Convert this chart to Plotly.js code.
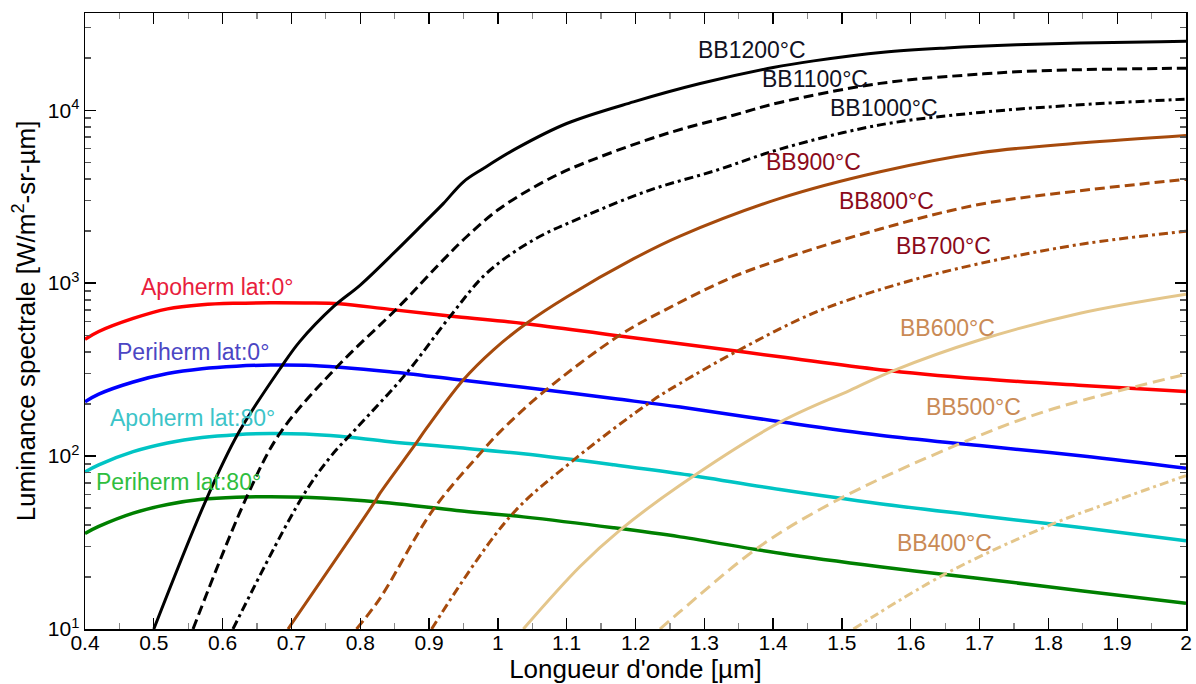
<!DOCTYPE html>
<html>
<head>
<meta charset="utf-8">
<script src="https://cdn.plot.ly/plotly-3.0.1.min.js"></script>
<style>html,body{margin:0;padding:0;background:#fff;}#chart{width:1196px;height:684px;}</style>
</head>
<body>
<div id="chart"></div>
<script>
// ---- Data (wavelength in µm, radiance in W/m²-sr-µm) ----
const bb1200_x = [0.50, 0.577, 0.6225, 0.686, 0.712, 0.761, 0.800, 0.853, 0.892, 0.921, 0.950, 0.979, 1.027, 1.10, 1.197, 1.294, 1.400, 1.459, 1.56, 1.652, 1.754, 1.846, 1.963, 2.0];
const bb1200_y = [10, 57, 135, 331, 459, 731, 975, 1553, 2216, 2891, 3855, 4603, 6012, 8375, 11170, 14256, 17660, 19280, 21630, 22910, 23880, 24430, 24890, 25000];

const bb1100_x = [0.557, 0.635, 0.683, 0.765, 0.8576, 0.9157, 0.9545, 1.003, 1.0805, 1.1484, 1.2454, 1.3423, 1.41, 1.5555, 1.706, 1.803, 1.963, 2.0];
const bb1100_y = [10, 58, 135, 324, 741, 1300, 1854, 2704, 4121, 5370, 7328, 9354, 11090, 14290, 16220, 16980, 17420, 17500];

const bb1000_x = [0.615, 0.7146, 0.7558, 0.7946, 0.867, 0.9303, 0.9836, 1.0514, 1.1241, 1.221, 1.318, 1.41, 1.5555, 1.701, 1.846, 2.0];
const bb1000_y = [10, 57, 98, 145, 301, 640, 1140, 1774, 2421, 3451, 4498, 5957, 8222, 9705, 10740, 11590];

const bb900_x = [0.695, 0.8212, 0.8285, 0.8794, 0.8964, 0.9496, 0.9932, 1.0418, 1.10, 1.1968, 1.2647, 1.41, 1.5555, 1.701, 1.846, 2.0];
const bb900_y = [10, 54.5, 60.8, 115.9, 144.9, 275.4, 410.2, 586.1, 832, 1380, 1870, 3090, 4406, 5675, 6457, 7145];

const bb800_x = [0.7946, 0.8285, 0.906, 0.9787, 1.003, 1.066, 1.1775, 1.2454, 1.3423, 1.41, 1.5555, 1.701, 1.846, 2.0];
const bb800_y = [10, 15, 49, 108.4, 138, 234, 501, 708, 1089, 1365, 2056, 2858, 3420, 3981];

const bb700_x = [0.9037, 1.0175, 1.107, 1.226, 1.2647, 1.347, 1.4585, 1.58, 1.701, 1.846, 2.0];
const bb700_y = [10, 44.6, 92.7, 211, 263, 403, 670, 982, 1300, 1675, 1995];

const bb600_x = [1.037, 1.119, 1.1775, 1.2647, 1.41, 1.5117, 1.575, 1.70, 1.846, 2.0];
const bb600_y = [10, 22.9, 37.3, 67.8, 157, 240, 312, 469, 670, 863];

const bb500_x = [1.2355, 1.2647, 1.381, 1.4975, 1.667, 1.798, 2.0];
const bb500_y = [10, 12.6, 30.1, 56.8, 115.9, 182.8, 297.2];

const bb400_x = [1.5167, 1.652, 1.8075, 1.90, 2.0];
const bb400_y = [10, 21, 40.7, 55.7, 77.1];

const surf_x   = [0.40, 0.42, 0.47, 0.52, 0.57, 0.62, 0.67, 0.72, 0.77, 0.843, 0.94, 1.037, 1.168, 1.265, 1.41, 1.555, 1.70, 1.85, 2.0];
const apo0_y   = [473, 525, 625, 710, 750, 765, 769, 767, 760, 705, 640, 585, 500, 446, 375, 316, 280, 256, 236];
const peri0_y  = [206, 228, 268, 300, 320, 331, 336, 335, 326, 307, 277, 250, 215, 192, 158, 132, 115, 100, 85];
const apo80_y  = [81, 89, 106, 119, 128, 133, 135, 134, 130, 121, 112, 103, 89, 79, 64, 53, 45.2, 38.5, 32.4];
const peri80_y = [35.7, 39.2, 46.8, 52.5, 56.2, 57.8, 58.2, 57.8, 56.5, 53.5, 48.5, 44.5, 38.5, 34.1, 27.4, 22.9, 19.6, 16.6, 14.1];

const xTickVals = [0.4, 0.5, 0.6, 0.7, 0.8, 0.9, 1, 1.1, 1.2, 1.3, 1.4, 1.5, 1.6, 1.7, 1.8, 1.9, 2];
const xTickText = ['0.4','0.5','0.6','0.7','0.8','0.9','1','1.1','1.2','1.3','1.4','1.5','1.6','1.7','1.8','1.9','2'];
const yTickVals = [10, 100, 1000, 10000];
const yTickText = ['10<sup>1</sup>','10<sup>2</sup>','10<sup>3</sup>','10<sup>4</sup>'];

const labelText = ['BB1200°C','BB1100°C','BB1000°C','BB900°C','BB800°C','BB700°C','BB600°C','BB500°C','BB400°C',
                   'Apoherm lat:0°','Periherm lat:0°','Apoherm lat:80°','Periherm lat:80°'];

// ---- styles ----
const BLACK = '#000000', BROWN = '#A64A0C', TAN = '#E4C68B';
const DASH = '10px,5px', DASHDOT = '9px,4px,3px,4px', TANDASH = '12px,6px';

function line(x, y, color, dash, w) {
  return {x: x, y: y, type: 'scatter', mode: 'lines', showlegend: false, hoverinfo: 'skip',
          line: {color: color, width: w || 3, dash: dash || 'solid', shape: 'spline', smoothing: 1}};
}

const traces = [
  line(surf_x, apo0_y, '#FF0000', 'solid', 3.5),
  line(surf_x, peri0_y, '#0000FF', 'solid', 3.5),
  line(surf_x, apo80_y, '#00C4C4', 'solid', 3.5),
  line(surf_x, peri80_y, '#008000', 'solid', 3.5),
  line(bb1200_x, bb1200_y, BLACK, 'solid'),
  line(bb1100_x, bb1100_y, BLACK, DASH),
  line(bb1000_x, bb1000_y, BLACK, DASHDOT),
  line(bb900_x, bb900_y, BROWN, 'solid'),
  line(bb800_x, bb800_y, BROWN, DASH),
  line(bb700_x, bb700_y, BROWN, DASHDOT),
  line(bb600_x, bb600_y, TAN, 'solid'),
  line(bb500_x, bb500_y, TAN, TANDASH),
  line(bb400_x, bb400_y, TAN, DASHDOT)
];

const labelPos = [
  [0.606, 0.940], [0.663, 0.893], [0.726, 0.846],
  [0.662, 0.758], [0.728, 0.694], [0.780, 0.621],
  [0.783, 0.488], [0.807, 0.360], [0.781, 0.139],
  [0.120, 0.556], [0.098, 0.449], [0.098, 0.342], [0.085, 0.238]
];
const labelColor = ['#111122','#111122','#111122','#8B0A1A','#8B0A1A','#8B0A1A',
                    '#C98A55','#C98A55','#C98A55','#E8203C','#4B46C4','#3CC4C8','#2EBE3E'];

const FONT = 'Liberation Sans, Arial, sans-serif';
const annotations = labelText.map((t, i) => ({
  text: t, xref: 'paper', yref: 'paper', x: labelPos[i][0], y: labelPos[i][1],
  xanchor: 'center', yanchor: 'middle', showarrow: false,
  font: {family: FONT, size: 23, color: labelColor[i]}
}));

const layout = {
  width: 1196, height: 684,
  margin: {l: 85, r: 10, t: 13, b: 55, pad: 0},
  paper_bgcolor: '#ffffff', plot_bgcolor: '#ffffff',
  font: {family: FONT, color: '#000'},
  xaxis: {
    range: [0.4, 2], tickmode: 'array', tickvals: xTickVals, ticktext: xTickText,
    ticks: 'inside', ticklen: 11, tickwidth: 1.3, tickcolor: '#000',
    showline: true, linecolor: '#000', linewidth: 1.5, mirror: 'ticks',
    showgrid: false, zeroline: false, ticklabelstandoff: -6,
    tickfont: {family: FONT, size: 21, color: '#000'},
    minor: {dtick: 0.05, tick0: 0.4, ticks: 'inside', ticklen: 6, tickcolor: '#888', tickwidth: 1.3, showgrid: false},
    title: {text: "Longueur d'onde [µm]", font: {family: FONT, size: 26, color: '#000'}, standoff: 6}
  },
  yaxis: {
    type: 'log', range: [1, 4.562], tickmode: 'array', tickvals: yTickVals, ticktext: yTickText,
    ticks: 'inside', ticklen: 11, tickwidth: 1.3, tickcolor: '#000',
    showline: true, linecolor: '#000', linewidth: 1.5, mirror: 'ticks',
    showgrid: false, zeroline: false,
    tickfont: {family: FONT, size: 21, color: '#000'},
    minor: {dtick: 'D1', ticks: 'inside', ticklen: 6, tickcolor: '#555', tickwidth: 1.3, showgrid: false},
    title: {text: 'Luminance spectrale [W/m<sup>2</sup>-sr-µm]', font: {family: FONT, size: 26, color: '#000'}, standoff: 4}
  },
  annotations: annotations
};

Plotly.newPlot('chart', traces, layout, {staticPlot: true, displayModeBar: false});
</script>
</body>
</html>
